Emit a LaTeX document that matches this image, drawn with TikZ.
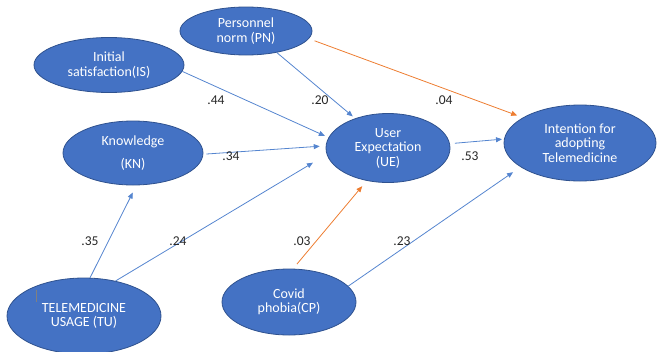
\documentclass[tikz,border=0pt]{standalone}
\usepackage{fontspec}
\setmainfont{Carlito}
\usetikzlibrary{shapes.geometric,arrows.meta}
\definecolor{boxblue}{HTML}{4472C4}
\definecolor{boxedge}{HTML}{2F528F}
\definecolor{lineblue}{HTML}{5585CF}
\definecolor{lineorange}{HTML}{ED7D31}
\begin{document}
\begin{tikzpicture}[
  x=1pt, y=-1pt,
  construct/.style={
    draw=boxedge,
    line width=0.8pt,
    fill=boxblue,
    ellipse,
    inner sep=0pt,
    text=white,
    align=center,
    font=\fontsize{14}{14.5}\selectfont
  },
  link/.style={
    draw=lineblue,
    line width=0.8pt,
    -{Triangle[length=6pt,width=5pt]}
  },
  link_orange/.style={
    link,
    draw=lineorange
  },
  weight/.style={
    font=\fontsize{13.5}{14}\selectfont,
    text=black!85
  }
]%
\useasboundingbox (0,0) rectangle (658,351);
% constructs
\node [construct, minimum width=132, minimum height=48] (pn) at (246,31) {Personnel\\norm (PN)};
\node [construct, minimum width=150, minimum height=55] (is) at (109,65) {Initial\\satisfaction(IS)};
\node [construct, minimum width=140, minimum height=64] (kn) at (133,153) {Knowledge\\[8.5pt](KN)};
\node [construct, minimum width=124, minimum height=69] (ue) at (388,148) {User\\Expectation\\(UE)};
\node [construct, minimum width=152, minimum height=76] (ia) at (580,143) {Intention for\\adopting\\Telemedicine};
\node [construct, minimum width=154, minimum height=76] (tu) at (84,316) {TELEMEDICINE\\USAGE (TU)};
\node [construct, minimum width=134, minimum height=66] (cp) at (289,302) {Covid\\phobia(CP)};
\draw [gray, line width=0.8pt] (36,290) -- (36,302);
% paths
\draw [link, shorten >=4pt] (is.-5) -- (ue.170);
\draw [link, shorten >=3pt] (pn.-35) -- (ue.138);
\draw [link_orange, shorten <=6pt, shorten >=6pt] (pn.-7) -- (ia.156);
\draw [link, shorten <=3pt, shorten >=6pt] (kn.-1) -- (ue.178);
\draw [link, shorten <=5pt, shorten >=2pt] (ue.4) -- (ia.177);
\draw [link, shorten >=8pt] (tu.81) -- (kn.-84);
\draw [link, shorten >=16pt] (tu.48) -- (ue.186);
\draw [link_orange, shorten <=6pt, shorten >=7pt] (cp.83) -- (ue.-123);
\draw [link, shorten >=9pt] (cp.15) -- (ia.202);
% weights
\node [weight] (w_is) at (216,100) {.44};
\node [weight] (w_pn) at (320,100) {.20};
\node [weight] (w_pi) at (444,100) {.04};
\node [weight] (w_kn) at (231,156) {.34};
\node [weight] (w_ue) at (470,156) {.53};
\node [weight] (w_tk) at (90,241) {.35};
\node [weight] (w_tu) at (178,241) {.24};
\node [weight] (w_cu) at (302,241) {.03};
\node [weight] (w_ci) at (402,241) {.23};
\end{tikzpicture}
\end{document}
